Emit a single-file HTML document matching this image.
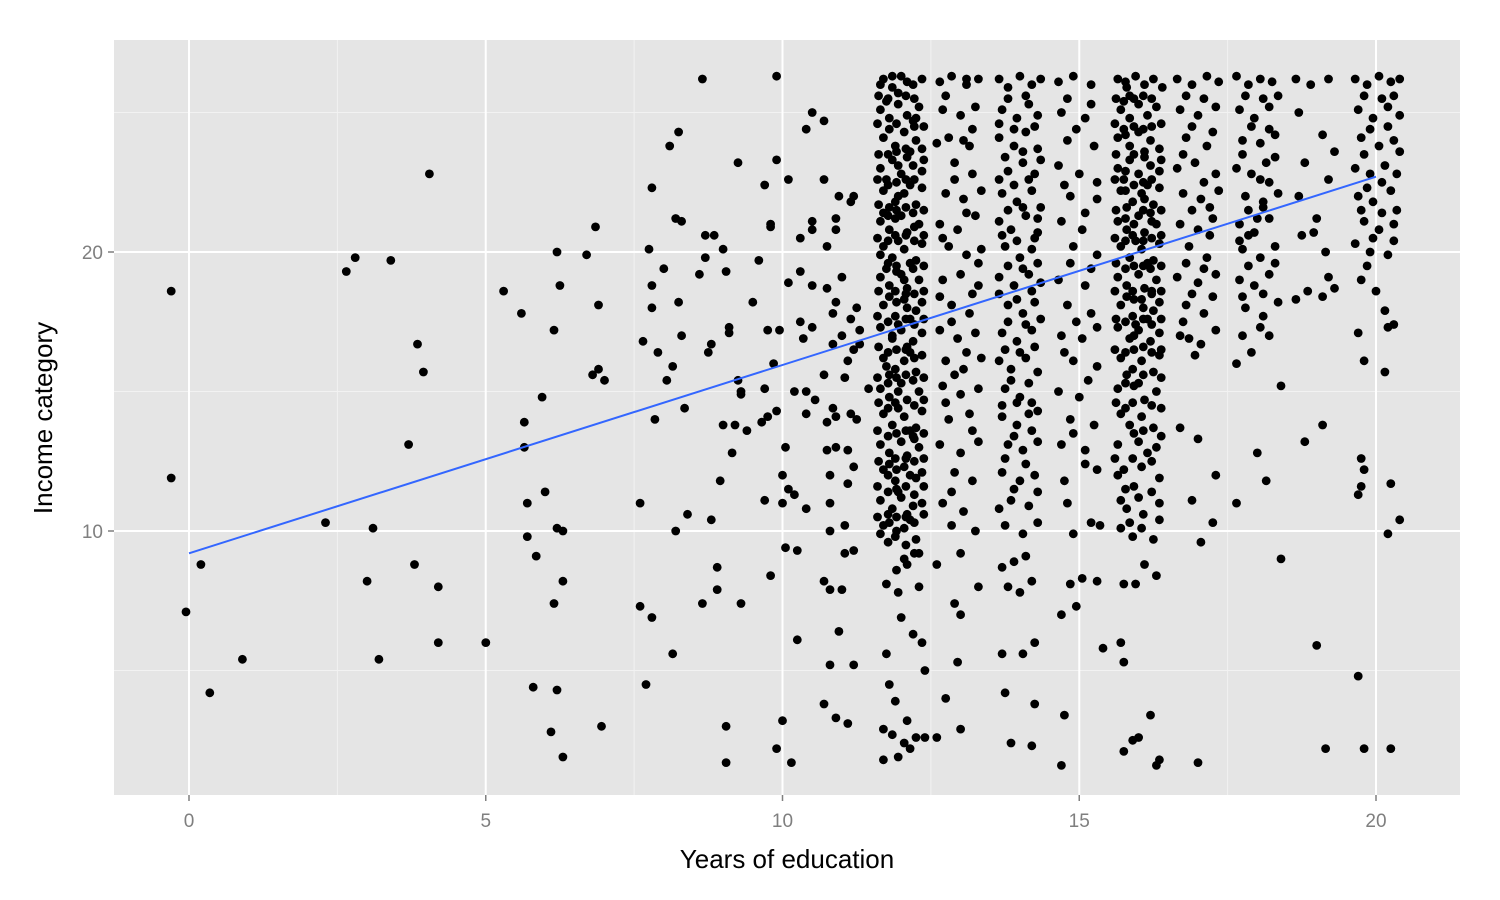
<!DOCTYPE html>
<html><head><meta charset="utf-8"><style>
html,body{margin:0;padding:0;background:#fff;}
svg{display:block;font-family:"Liberation Sans",Arial,sans-serif;}
</style></head><body>
<svg id="chart" width="1500" height="900" viewBox="0 0 1500 900" xmlns="http://www.w3.org/2000/svg">
<rect x="114" y="40" width="1346" height="755" fill="#e5e5e5"/>
<g id="grid"></g>
<g id="points"></g>
<g id="fit"></g>
<g id="axes"></g>
<text x="787" y="868" font-size="26" text-anchor="middle" fill="#000">Years of education</text>
<text transform="translate(52,418) rotate(-90)" font-size="26" text-anchor="middle" fill="#000">Income category</text>
</svg>
<script>
const xTicks=[0,5,10,15,20];
const xMinor=[2.5,7.5,12.5,17.5];
const yTicks=[10,20];
const yMinor=[5,15,25];
const fitStart=[0,9.2];
const fitEnd=[20,22.7];
const sparse=[[-0.3,18.6],[-0.3,11.9],[-0.05,7.1],[0.2,8.8],[0.35,4.2],[0.9,5.4],[2.3,10.3],[2.65,19.3],[2.8,19.8],[3.0,8.2],[3.1,10.1],[3.2,5.4],[3.4,19.7],[3.7,13.1],[3.8,8.8],[3.85,16.7],[3.95,15.7],[4.05,22.8],[4.2,8.0],[4.2,6.0],[5.0,6.0],[5.3,18.6],[5.6,17.8],[5.65,13.9],[5.65,13.0],[5.7,11.0],[5.7,9.8],[5.8,4.4],[5.85,9.1],[5.95,14.8],[6.0,11.4],[6.1,2.8],[6.15,17.2],[6.2,20.0],[6.2,10.1],[6.15,7.4],[6.2,4.3],[6.25,18.8],[6.3,10.0],[6.3,8.2],[6.3,1.9],[6.7,19.9],[6.8,15.6],[6.85,20.9],[6.9,18.1],[6.9,15.8],[6.95,3.0],[7.0,15.4],[7.6,11.0],[7.6,7.3],[7.65,16.8],[7.7,4.5],[7.75,20.1],[7.8,22.3],[7.8,18.8],[7.8,18.0],[7.8,6.9],[7.85,14.0],[7.9,16.4],[8.0,19.4],[8.05,15.4],[8.1,23.8],[8.15,15.9],[8.15,5.6],[8.2,21.2],[8.2,10.0],[8.25,24.3],[8.25,18.2],[8.3,21.1],[8.3,17.0],[8.35,14.4],[8.4,10.6],[8.6,19.2],[8.65,26.2],[8.7,20.6],[8.7,19.8],[8.65,7.4],[8.75,16.4],[8.8,16.7],[8.8,10.4],[8.85,20.6],[8.9,8.7],[8.9,7.9],[8.95,11.8],[9.0,20.1],[9.0,13.8],[9.05,19.3],[9.1,17.3],[9.05,3.0],[9.05,1.7],[9.1,17.1],[9.15,12.8],[9.2,13.8],[9.25,15.4],[9.25,23.2],[9.3,15.0],[9.3,14.9],[9.3,7.4],[9.4,13.6],[9.5,18.2],[9.6,19.7],[9.65,13.9],[9.7,15.1],[9.7,22.4],[9.7,11.1],[9.75,17.2],[9.75,14.1],[9.8,21.0],[9.8,20.9],[9.8,8.4],[9.85,16.0],[9.9,26.3],[9.9,23.3],[9.9,14.3],[9.9,2.2],[9.95,17.2],[10.0,11.0],[10.05,13.0],[10.0,12.0],[10.0,3.2],[10.05,9.4],[10.1,22.6],[10.1,18.9],[10.1,11.5],[10.15,1.7],[10.2,15.0],[10.2,11.3],[10.25,9.3],[10.25,6.1],[10.3,19.3],[10.3,17.5],[10.3,20.5],[10.35,16.9],[10.4,24.4],[10.4,15.0],[10.4,10.8],[10.4,14.2],[10.5,25.0],[10.5,21.1],[10.5,20.8],[10.5,18.8],[10.5,17.3],[10.55,14.7],[10.7,24.7],[10.7,22.6],[10.7,15.6],[10.7,8.2],[10.7,3.8],[10.75,20.2],[10.75,18.7],[10.75,13.9],[10.75,12.9],[10.8,12.0],[10.8,11.0],[10.8,10.0],[10.8,7.9],[10.8,5.2],[10.85,17.8],[10.85,16.7],[10.85,14.4],[10.9,21.2],[10.9,20.8],[10.9,18.2],[10.9,14.1],[10.9,13.0],[10.9,3.3],[10.95,22.0],[10.95,6.4],[11.0,19.1],[11.0,17.0],[11.05,15.5],[11.05,10.2],[11.05,9.2],[11.1,16.1],[11.1,12.9],[11.1,11.7],[11.1,3.1],[11.15,21.8],[11.15,17.6],[11.15,14.2],[11.2,16.5],[11.2,12.3],[11.2,9.3],[11.2,5.2],[11.25,18.0],[11.3,16.7],[11.3,17.2],[11.45,15.1],[11.0,7.9],[11.25,14.0],[11.2,22.0]];
const col12=[[11.7,26.2],[11.85,25.9],[12.0,26.3],[12.2,26.0],[12.35,26.2],[11.95,25.7],[11.65,25.1],[11.8,24.8],[11.95,25.3],[12.1,24.9],[12.3,25.2],[12.2,24.7],[11.75,25.4],[11.7,24.1],[11.9,23.8],[12.05,24.3],[12.25,24.0],[12.35,23.7],[11.8,24.4],[12.15,23.6],[11.65,23.0],[11.85,23.3],[12.0,22.8],[12.2,23.1],[12.35,22.9],[11.75,22.6],[12.1,23.4],[11.7,22.2],[11.9,21.8],[12.05,22.1],[12.25,21.7],[12.35,22.3],[11.8,21.6],[12.15,22.4],[11.95,22.0],[11.65,21.1],[11.8,20.8],[12.0,21.3],[12.1,20.7],[12.3,21.0],[12.2,21.4],[11.9,20.6],[11.7,21.4],[11.7,20.2],[11.85,19.8],[12.05,20.1],[12.25,19.7],[12.35,20.3],[11.95,20.4],[12.15,19.6],[11.65,19.9],[11.65,19.1],[11.8,18.8],[12.0,19.2],[12.1,18.7],[12.3,19.0],[12.2,19.4],[11.9,18.6],[11.75,19.4],[11.7,18.1],[11.9,17.7],[12.05,18.3],[12.25,17.9],[12.35,18.2],[11.8,18.4],[12.15,17.6],[11.65,17.3],[11.85,16.9],[12.0,17.2],[12.2,16.8],[12.35,17.1],[11.95,17.4],[12.1,16.6],[11.7,16.2],[11.9,15.8],[12.05,16.1],[12.25,15.7],[12.35,16.3],[11.8,15.6],[12.15,16.4],[11.65,15.1],[11.8,14.8],[12.0,15.3],[12.1,14.7],[12.3,15.0],[12.2,15.4],[11.9,14.6],[11.7,14.2],[11.85,13.8],[12.05,14.1],[12.25,13.7],[12.35,14.3],[11.95,14.4],[12.15,13.6],[11.65,13.1],[11.8,12.8],[12.0,13.2],[12.1,12.7],[12.3,13.0],[12.2,13.4],[11.9,12.6],[11.7,12.2],[11.9,11.8],[12.05,12.3],[12.25,11.9],[12.35,12.1],[11.8,12.4],[11.65,11.1],[11.85,10.8],[12.0,11.2],[12.2,10.9],[12.35,11.0],[11.95,11.4],[12.1,10.6],[11.7,10.2],[11.9,9.8],[12.05,10.1],[12.25,9.7],[11.8,10.3],[12.15,10.4],[11.65,9.9],[11.75,8.1],[12.1,8.8],[12.3,8.0],[11.95,7.8],[12.2,6.3],[12.35,6.0],[12.4,5.0],[11.8,4.5],[11.9,3.9],[12.1,3.2],[11.7,2.9],[11.85,2.7],[12.05,2.4],[12.25,2.6],[12.4,2.6],[11.7,1.8],[11.95,1.9],[12.15,2.2],[11.75,5.6],[12.0,6.9],[12.3,9.2],[11.85,17.0],[12.05,19.0],[11.95,23.1],[12.25,24.8],[11.75,15.9]];
const col12b=[[11.62,25.6],[11.78,25.5],[11.92,24.6],[12.08,25.6],[12.22,25.5],[12.38,24.5],[11.6,24.6],[11.78,23.5],[11.92,23.6],[12.08,23.7],[12.22,24.5],[12.38,23.3],[11.62,23.5],[11.78,22.4],[11.92,22.5],[12.08,22.6],[12.22,22.6],[12.38,21.5],[11.6,22.6],[11.78,21.3],[11.92,21.5],[12.08,21.6],[12.22,20.4],[12.38,20.6],[11.62,21.7],[11.78,20.4],[11.92,19.5],[12.08,20.6],[12.22,20.9],[12.38,19.5],[11.6,20.5],[11.78,19.6],[11.92,19.3],[12.08,18.5],[12.22,18.5],[12.38,18.6],[11.62,18.6],[11.78,17.5],[11.92,18.2],[12.08,17.6],[12.22,17.4],[12.38,17.6],[11.6,17.7],[11.78,16.4],[11.92,16.5],[12.08,16.5],[12.22,16.2],[12.38,15.5],[11.62,16.6],[11.78,15.3],[11.92,15.5],[12.08,15.6],[12.22,14.5],[12.38,14.7],[11.6,15.5],[11.78,14.4],[11.92,13.5],[12.08,13.6],[12.22,13.3],[12.38,13.5],[11.62,14.6],[11.78,13.4],[11.92,12.2],[12.08,12.6],[12.22,12.5],[12.38,12.6],[11.6,13.6],[11.78,12.0],[11.92,11.5],[12.08,11.6],[12.22,11.3],[12.38,11.6],[11.62,12.5],[11.78,11.4],[11.92,10.5],[12.08,10.5],[12.22,10.3],[12.38,10.6],[11.6,11.6],[11.78,10.6],[11.92,10.0],[12.08,9.5],[12.22,9.2],[11.6,10.5],[11.78,9.6],[11.92,8.6],[12.05,9.0],[11.9,21.2],[12.1,18.0],[11.95,15.0],[12.15,12.0],[11.85,26.3],[12.1,26.1],[11.65,26.0]];
const col13=[[12.65,26.1],[12.85,26.3],[13.1,26.0],[13.3,26.2],[12.7,25.1],[13.0,24.9],[13.25,25.2],[12.8,24.1],[13.15,23.8],[12.6,23.9],[12.9,23.2],[13.2,22.8],[12.75,22.1],[13.05,21.9],[13.35,22.2],[12.65,21.0],[12.95,20.8],[13.25,21.3],[12.8,20.2],[13.1,19.9],[13.35,20.1],[12.7,19.0],[13.0,19.2],[13.3,18.8],[12.85,18.1],[13.15,17.8],[12.65,17.2],[12.95,16.9],[13.25,17.1],[12.75,16.1],[13.05,15.8],[13.35,16.2],[12.7,15.2],[13.0,14.9],[13.3,15.1],[12.8,14.0],[13.15,14.2],[12.65,13.1],[13.0,12.8],[13.3,13.2],[12.9,12.1],[13.2,11.8],[12.7,11.0],[13.05,10.7],[12.85,10.2],[13.25,10.0],[12.6,8.8],[13.0,9.2],[12.9,7.4],[13.0,7.0],[12.75,4.0],[13.0,2.9],[12.6,2.6],[13.3,8.0],[12.95,5.3]];
const col13b=[[12.75,25.6],[13.2,24.4],[12.9,22.6],[13.1,21.4],[12.7,20.5],[13.2,18.5],[12.85,17.5],[13.1,16.4],[12.75,14.6],[13.2,13.6],[12.85,11.4],[13.05,24.0],[12.65,18.4],[13.3,19.6],[12.9,15.6],[13.1,26.2]];
const col14=[[13.65,26.2],[13.8,25.9],[14.0,26.3],[14.2,26.0],[14.35,26.2],[13.7,25.1],[13.95,24.8],[14.15,25.3],[14.3,24.9],[13.65,24.1],[13.9,23.8],[14.1,24.3],[14.3,23.7],[13.8,22.9],[14.05,23.2],[14.25,22.8],[13.7,22.1],[13.95,21.8],[14.2,22.2],[14.35,21.6],[13.65,21.1],[13.85,20.8],[14.1,21.3],[14.3,20.7],[13.75,20.2],[14.0,19.8],[14.2,20.1],[13.65,19.1],[13.9,18.8],[14.15,19.2],[14.35,18.9],[13.8,18.1],[14.05,17.8],[14.25,18.2],[13.7,17.1],[13.95,16.8],[14.2,17.2],[13.65,16.1],[13.85,15.8],[14.1,16.2],[14.3,15.7],[13.75,15.1],[14.0,14.8],[14.2,14.6],[13.7,14.1],[13.95,13.8],[14.15,14.2],[13.8,13.1],[14.05,12.9],[14.3,13.2],[13.7,12.1],[14.0,11.8],[14.25,12.0],[13.85,11.1],[14.15,10.9],[13.75,10.2],[14.05,9.9],[14.3,10.3],[13.7,8.7],[13.9,8.9],[14.1,9.1],[14.2,8.2],[13.8,8.0],[14.0,7.8],[13.7,5.6],[14.05,5.6],[14.25,6.0],[13.75,4.2],[14.25,3.8],[13.85,2.4],[14.2,2.3],[13.95,14.6]];
const col14b=[[13.8,25.5],[14.1,25.6],[13.65,24.6],[14.25,24.5],[13.9,24.4],[13.75,23.4],[14.05,23.6],[14.35,23.3],[13.9,22.4],[14.15,22.6],[13.65,22.6],[13.8,21.5],[14.05,21.6],[14.3,21.2],[13.7,20.6],[13.95,20.4],[14.25,20.5],[13.8,19.5],[14.05,19.4],[14.3,19.6],[13.65,18.5],[13.95,18.3],[14.2,18.6],[13.8,17.5],[14.1,17.4],[14.35,17.6],[13.75,16.5],[14.0,16.4],[14.25,16.6],[13.85,15.4],[14.15,15.3],[13.7,14.5],[14.3,14.3],[13.9,13.4],[14.2,13.6],[13.75,12.6],[14.1,12.4],[13.9,11.5],[14.3,11.4],[13.65,10.8]];
const col15=[[14.65,26.1],[14.9,26.3],[15.2,26.0],[14.7,25.0],[15.1,24.8],[14.8,24.0],[15.25,23.8],[14.65,23.1],[15.0,22.8],[14.85,22.0],[15.3,21.9],[14.7,21.1],[15.05,20.8],[14.9,20.2],[15.3,19.9],[14.65,19.0],[15.1,18.8],[14.8,18.1],[15.2,17.8],[14.7,17.0],[15.05,16.9],[14.9,16.1],[15.3,15.9],[14.65,15.0],[15.0,14.8],[14.85,14.0],[15.25,13.8],[14.7,13.1],[15.1,12.9],[15.3,12.2],[14.8,11.0],[15.2,10.3],[14.9,9.9],[15.05,8.3],[14.85,8.1],[15.3,8.2],[14.95,7.3],[14.7,7.0],[15.4,5.8],[14.75,3.4],[14.7,1.6],[15.35,10.2]];
const col15b=[[14.8,25.5],[15.2,25.3],[14.95,24.4],[15.3,22.5],[14.75,22.4],[15.1,21.4],[14.85,19.6],[15.2,19.4],[14.95,17.5],[15.3,17.3],[14.75,16.4],[15.15,15.4],[14.9,13.5],[15.1,12.4],[14.75,11.8]];
const col16=[[15.65,26.2],[15.8,25.9],[15.95,26.3],[16.1,26.0],[16.25,26.2],[16.4,25.9],[15.7,25.1],[15.85,24.8],[16.0,25.3],[16.15,24.9],[16.3,25.2],[15.75,25.4],[15.65,24.1],[15.85,23.8],[16.0,24.3],[16.2,24.0],[16.35,23.7],[15.75,24.4],[16.1,23.6],[15.65,23.0],[15.85,23.3],[16.0,22.8],[16.2,23.1],[16.35,22.9],[15.75,22.6],[16.1,23.4],[15.7,22.2],[15.9,21.8],[16.05,22.1],[16.25,21.7],[16.35,22.3],[15.8,21.6],[16.15,22.4],[15.65,21.1],[15.8,20.8],[16.0,21.3],[16.1,20.7],[16.3,21.0],[16.2,21.4],[15.9,20.6],[15.7,20.2],[15.85,19.8],[16.05,20.1],[16.25,19.7],[16.35,20.3],[15.95,20.4],[16.15,19.6],[15.65,19.1],[15.8,18.8],[16.0,19.2],[16.1,18.7],[16.3,19.0],[16.2,19.4],[15.9,18.6],[15.7,18.1],[15.9,17.7],[16.05,18.3],[16.25,17.9],[16.35,18.2],[15.8,18.4],[16.15,17.6],[15.65,17.3],[15.85,16.9],[16.0,17.2],[16.2,16.8],[16.35,17.1],[15.95,17.4],[15.7,16.2],[15.9,15.8],[16.05,16.1],[16.25,15.7],[16.35,16.3],[15.8,15.6],[15.65,15.1],[16.0,15.3],[16.1,14.7],[16.3,15.0],[15.9,14.6],[15.7,14.2],[16.05,14.1],[16.25,13.7],[15.85,13.8],[15.65,13.1],[16.0,13.2],[16.3,13.0],[15.9,12.6],[15.75,12.2],[16.05,12.3],[16.35,11.9],[15.7,11.1],[16.0,11.2],[16.35,11.0],[15.8,10.8],[15.7,10.1],[16.05,10.1],[16.25,9.7],[15.9,9.8],[16.35,10.4],[15.75,8.1],[15.95,8.1],[16.1,8.8],[16.3,8.4],[15.7,6.0],[15.75,5.3],[16.2,3.4],[16.0,2.6],[15.9,2.5],[15.75,2.1],[16.35,1.8],[16.3,1.6],[16.1,21.9],[15.85,25.6]];
const col16b=[[15.62,25.5],[15.78,26.1],[15.92,25.5],[16.08,25.6],[16.22,25.5],[16.38,24.6],[15.6,24.6],[15.78,24.2],[15.92,24.5],[16.08,24.4],[16.22,24.5],[16.38,23.3],[15.62,23.5],[15.78,22.9],[15.92,23.5],[16.08,22.5],[16.22,22.6],[16.38,21.5],[15.6,22.6],[15.78,22.2],[15.92,22.4],[16.08,21.5],[16.22,21.1],[16.38,20.6],[15.62,21.5],[15.78,21.2],[15.92,21.0],[16.08,20.4],[16.22,20.5],[16.38,19.5],[15.6,20.5],[15.78,20.4],[15.92,19.5],[16.08,19.5],[16.22,18.5],[16.38,18.6],[15.62,19.6],[15.78,19.4],[15.92,18.3],[16.08,18.0],[16.22,18.6],[16.38,17.6],[15.6,18.6],[15.78,17.5],[15.92,17.0],[16.08,17.6],[16.22,17.4],[16.38,16.5],[15.62,17.6],[15.78,16.4],[15.92,16.5],[16.08,16.6],[16.22,16.4],[16.38,15.5],[15.6,16.5],[15.78,15.3],[15.92,15.2],[16.08,15.6],[16.22,14.5],[16.38,14.4],[15.62,14.6],[15.78,14.4],[15.92,13.5],[16.08,13.6],[16.22,12.5],[16.38,13.4],[15.6,12.6],[15.78,11.5],[15.92,11.6],[16.08,10.6],[16.22,11.4],[15.65,12.0],[15.85,10.3],[16.15,12.8]];
const col17=[[16.65,26.2],[16.9,26.0],[17.15,26.3],[17.35,26.1],[16.7,25.1],[17.0,24.9],[17.3,25.2],[16.8,24.1],[17.15,23.8],[16.65,23.0],[16.95,23.2],[17.3,22.8],[16.75,22.1],[17.05,21.9],[17.35,22.2],[16.7,21.0],[17.0,20.8],[17.25,21.2],[16.85,20.2],[17.15,19.8],[16.65,19.1],[17.0,18.9],[17.3,19.2],[16.8,18.1],[17.1,17.8],[16.7,17.0],[17.05,16.7],[17.3,17.2],[16.95,16.3],[16.7,13.7],[17.0,13.3],[17.3,12.0],[17.25,10.3],[16.9,11.1],[17.05,9.6],[17.0,1.7],[16.85,16.9],[17.2,20.6]];
const col17b=[[16.8,25.6],[17.1,25.5],[16.9,24.5],[17.25,24.3],[16.75,23.5],[17.1,22.5],[16.9,21.5],[17.2,21.6],[16.8,19.6],[17.1,19.4],[16.9,18.5],[17.25,18.4],[16.75,17.5]];
const col18=[[17.65,26.3],[17.85,26.0],[18.05,26.2],[18.25,26.1],[17.7,25.1],[17.95,24.8],[18.2,25.2],[17.75,24.0],[18.05,23.9],[18.3,24.2],[17.65,23.0],[17.9,22.8],[18.15,23.2],[17.8,22.0],[18.1,21.8],[18.35,22.1],[17.7,21.0],[17.95,20.7],[18.2,21.2],[17.75,20.1],[18.05,19.8],[18.3,20.2],[17.7,19.0],[17.95,18.8],[18.2,19.2],[17.8,18.0],[18.1,17.7],[18.35,18.2],[17.75,17.0],[18.05,17.3],[17.9,16.4],[17.65,16.0],[18.2,17.0],[18.0,12.8],[18.4,15.2],[18.15,11.8],[17.65,11.0],[18.4,9.0],[18.1,21.6],[17.85,19.5]];
const col18b=[[17.8,25.6],[18.1,25.5],[18.35,25.6],[17.9,24.5],[18.2,24.4],[17.75,23.5],[18.05,22.6],[18.3,23.4],[17.85,21.5],[18.2,22.5],[17.7,20.4],[18.0,21.2],[18.3,19.6],[17.85,20.6],[18.1,18.5],[17.75,18.4]];
const col19=[[18.65,26.2],[18.9,26.0],[19.2,26.2],[18.7,25.0],[19.1,24.2],[18.8,23.2],[19.2,22.6],[18.7,22.0],[19.0,21.2],[18.75,20.6],[19.15,20.0],[18.85,18.6],[19.1,18.4],[19.3,18.7],[18.65,18.3],[19.2,19.1],[18.8,13.2],[19.1,13.8],[19.0,5.9],[19.15,2.2],[18.95,20.7],[19.3,23.6]];
const col20=[[19.65,26.2],[19.85,26.0],[20.05,26.3],[20.25,26.1],[20.4,26.2],[19.7,25.1],[19.95,24.8],[20.2,25.2],[20.4,24.9],[19.75,24.1],[20.05,23.8],[20.3,24.0],[20.4,23.6],[19.65,23.0],[19.9,22.8],[20.15,23.1],[19.7,22.0],[19.95,21.8],[20.25,22.2],[19.8,21.1],[20.05,20.8],[20.3,21.0],[19.65,20.3],[19.9,20.0],[20.2,19.9],[19.75,19.0],[20.0,18.6],[20.15,17.9],[20.2,17.3],[20.3,17.4],[19.8,16.1],[19.7,17.1],[20.15,15.7],[19.75,12.6],[19.8,12.2],[19.7,11.3],[19.75,11.6],[20.25,11.7],[20.2,9.9],[20.4,10.4],[19.7,4.8],[19.8,2.2],[20.25,2.2],[19.85,22.3],[20.35,21.5]];
const col20b=[[19.8,25.6],[20.1,25.5],[20.3,25.6],[19.9,24.4],[20.2,24.5],[19.8,23.5],[20.1,22.5],[20.35,22.8],[19.75,21.5],[20.1,21.4],[19.95,20.5],[20.3,20.4],[19.85,19.5]];

const NS='http://www.w3.org/2000/svg';
const px0=189, pxPer=(1376-189)/20;
const py20=252, pyPer=(531-252)/10;
function xScale(v){return px0+v*pxPer;}
function yScale(v){return py20-(v-20)*pyPer;}
function mk(tag,attrs,parent){const e=document.createElementNS(NS,tag);for(const k in attrs)e.setAttribute(k,attrs[k]);parent.appendChild(e);return e;}
const grid=document.getElementById('grid');
xMinor.forEach(v=>{const l=mk('line',{x1:xScale(v),x2:xScale(v),y1:40,y2:795,stroke:'#f2f2f2','stroke-width':1},grid);

});
yMinor.forEach(v=>{const l=mk('line',{x1:114,x2:1460,y1:yScale(v),y2:yScale(v),stroke:'#f2f2f2','stroke-width':1},grid);

});
xTicks.forEach(v=>{const l=mk('line',{x1:xScale(v),x2:xScale(v),y1:40,y2:795,stroke:'#fff','stroke-width':2},grid);

});
yTicks.forEach(v=>{const l=mk('line',{x1:114,x2:1460,y1:yScale(v),y2:yScale(v),stroke:'#fff','stroke-width':2},grid);

});
const pts=document.getElementById('points');
[sparse,col12,col12b,col13,col13b,col14,col14b,col15,col15b,col16,col16b,col17,col17b,col18,col18b,col19,col20,col20b].forEach(arr=>arr.forEach(p=>{
const c=mk('circle',{cx:xScale(p[0]).toFixed(1),cy:yScale(p[1]).toFixed(1),r:4.4,fill:'#000'},pts);

}));
const fit=document.getElementById('fit');
const fl=mk('line',{x1:xScale(fitStart[0]),y1:yScale(fitStart[1]),x2:xScale(fitEnd[0]),y2:yScale(fitEnd[1]),stroke:'#3366ff','stroke-width':2},fit);


const axes=document.getElementById('axes');
xTicks.forEach(v=>{const t=mk('line',{x1:xScale(v),x2:xScale(v),y1:795,y2:801,stroke:'#7f7f7f','stroke-width':1.5},axes);


const tx=mk('text',{x:xScale(v),y:827,'font-size':19,'text-anchor':'middle',fill:'#7f7f7f'},axes);tx.textContent=String(v);

});
yTicks.forEach(v=>{const t=mk('line',{x1:108,x2:114,y1:yScale(v),y2:yScale(v),stroke:'#7f7f7f','stroke-width':1.5},axes);


const tx=mk('text',{x:103,y:yScale(v)+7,'font-size':19,'text-anchor':'end',fill:'#7f7f7f'},axes);tx.textContent=String(v);

});
</script>
</body></html>
